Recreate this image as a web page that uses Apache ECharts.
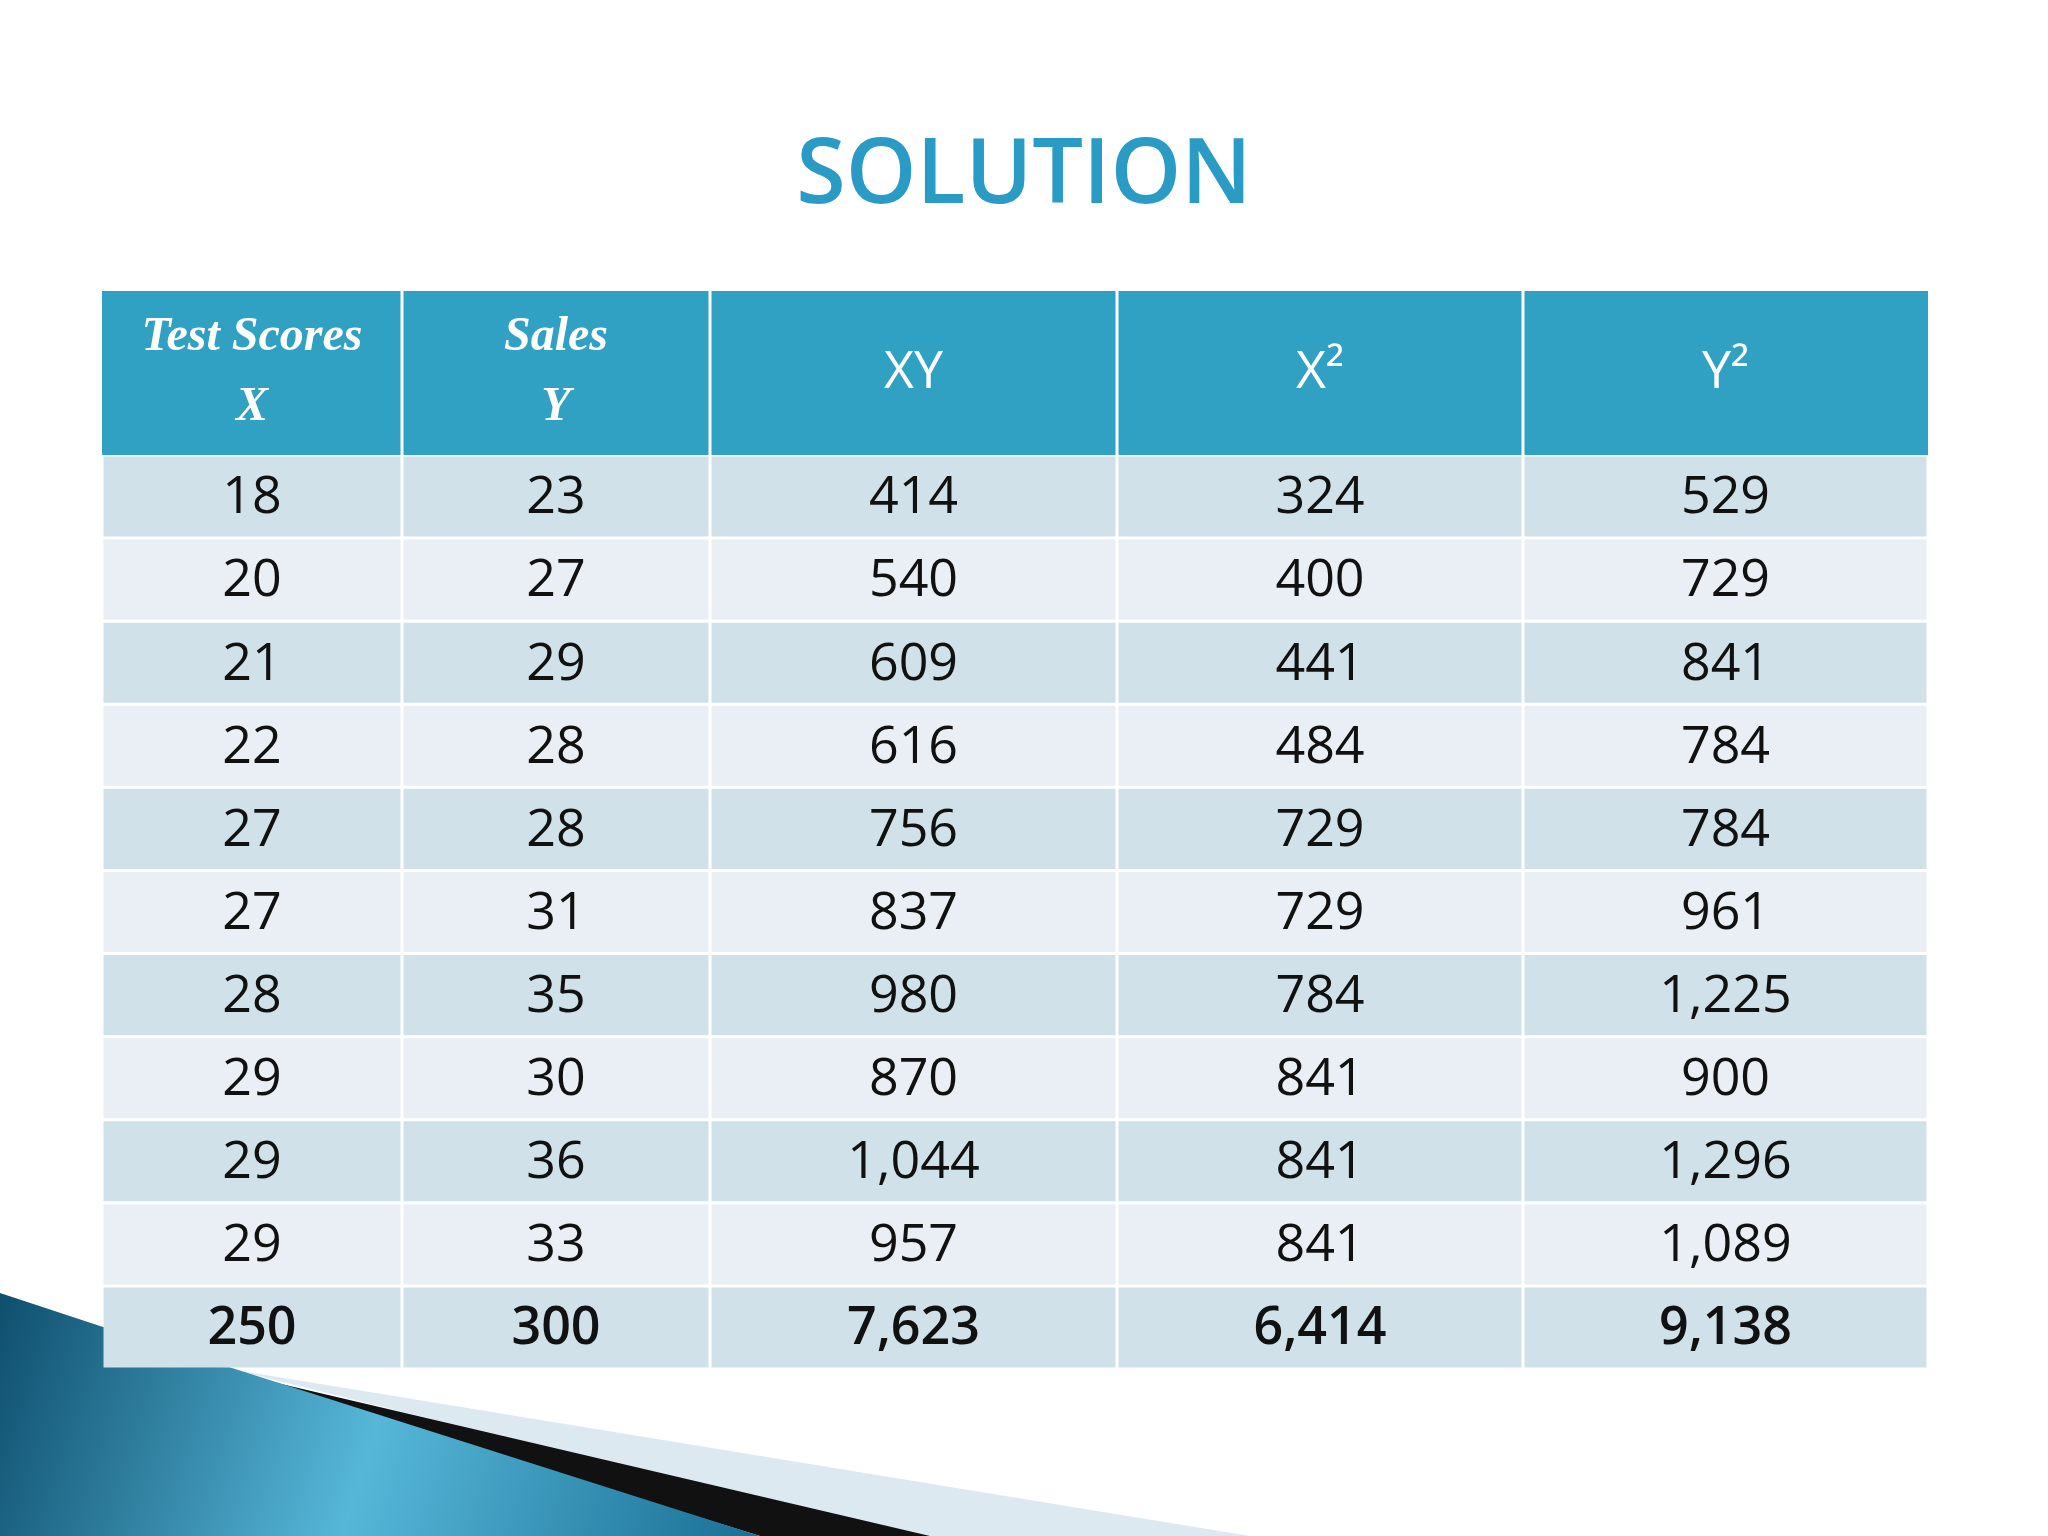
<!DOCTYPE html>
<html>
<head>
<meta charset="utf-8">
<script src="https://cdn.jsdelivr.net/npm/echarts@6/dist/echarts.min.js"></script>
<style>html,body{margin:0;padding:0;background:#fff}#main{width:2048px;height:1536px}</style>
</head>
<body>
<div id="main"></div>
<script>
// table data
var headers = [['Test Scores', 'X'], ['Sales', 'Y'], ['XY'], ['X²'], ['Y²']];
var colX = ['18', '20', '21', '22', '27', '27', '28', '29', '29', '29', '250'];
var colY = ['23', '27', '29', '28', '28', '31', '35', '30', '36', '33', '300'];
var colXY = ['414', '540', '609', '616', '756', '837', '980', '870', '1,044', '957', '7,623'];
var colX2 = ['324', '400', '441', '484', '729', '729', '784', '841', '841', '841', '6,414'];
var colY2 = ['529', '729', '841', '784', '784', '961', '1,225', '900', '1,296', '1,089', '9,138'];
var columns = [colX, colY, colXY, colX2, colY2];
var rowNames = colX.map(function (v, i) { return 'r' + i; });

// layout (pixels from table left)
var edges = [0, 300, 608, 1015, 1421, 1826];
var tblLeft = 102, tblTop = 455, tblW = 1826, tblH = 914, headTop = 291;

var cells = [], labels = [];
columns.forEach(function (col, c) {
  col.forEach(function (v, r) { cells.push([c, r]); labels.push(v); });
});

function lin(x2, y2, stops) {
  return { type: 'linear', x: 0, y: 0, x2: x2, y2: y2,
    colorStops: stops.map(function (s) { return { offset: s[0], color: s[1] }; }) };
}

var chart = echarts.init(document.getElementById('main'));

var graphics = [];
// title
graphics.push({
  type: 'text', left: 'center', top: 132,
  style: {
    text: 'SOLUTION', font: '600 90px "Open Sans", sans-serif',
    fill: '#2a9bc4',
    shadowColor: 'rgba(0,0,0,0.35)', shadowBlur: 6, shadowOffsetX: 3, shadowOffsetY: 3
  }
});
// bottom-left swoosh
graphics.push({ type: 'polygon', z: 0,
  shape: { points: [[235, 1370], [1250, 1536], [900, 1536]] }, style: { fill: '#dce9f1' } });
graphics.push({ type: 'polygon', z: 1,
  shape: { points: [[230, 1372], [930, 1536], [760, 1536]] }, style: { fill: '#111' } });
graphics.push({ type: 'polygon', z: 2,
  shape: { points: [[0, 1293], [100, 1326], [760, 1536], [0, 1536]] },
  style: { fill: lin(1, 1, [[0, '#0f4f6e'], [0.5, '#56b7d9'], [1, '#1a6f95']]) } });
// header
graphics.push({ type: 'rect', shape: { x: tblLeft, y: headTop, width: tblW, height: tblTop - headTop },
  style: { fill: '#31a1c3' } });
headers.forEach(function (h, i) {
  var x0 = tblLeft + edges[i], x1 = tblLeft + edges[i + 1];
  if (i > 0) graphics.push({ type: 'rect', z: 5,
    shape: { x: x0 - 1.5, y: headTop, width: 3, height: tblTop - headTop }, style: { fill: '#fff' } });
  var serif = h.length > 1;
  graphics.push({
    type: 'text', z: 6,
    style: {
      text: h.join('\n'), x: (x0 + x1) / 2, y: headTop + (tblTop - headTop) / 2,
      align: 'center', verticalAlign: 'middle',
      font: serif ? 'bold italic 48px "Liberation Serif", serif' : '52px "Open Sans", sans-serif',
      lineHeight: 70, fill: '#fff'
    }
  });
});

chart.setOption({
  animation: false,
  graphic: graphics,
  grid: { left: tblLeft, top: tblTop, width: tblW, height: tblH },
  xAxis: { type: 'value', min: 0, max: tblW, show: false },
  yAxis: { type: 'category', data: rowNames, inverse: true, show: false },
  series: [{
    type: 'custom',
    data: cells,
    encode: { x: 0, y: 1 },
    renderItem: function (params, api) {
      var c = api.value(0), r = api.value(1);
      var p0 = api.coord([edges[c], r]);
      var p1 = api.coord([edges[c + 1], r]);
      var h = api.size([0, 1])[1];
      var total = r === colX.length - 1;
      return {
        type: 'group',
        children: [{
          type: 'rect',
          shape: { x: p0[0] + 1.5, y: p0[1] - h / 2 + 1.5, width: p1[0] - p0[0] - 3, height: h - 3 },
          style: { fill: r % 2 === 0 ? '#d0e1e9' : '#e9eff5' }
        }, {
          type: 'text',
          style: {
            text: labels[params.dataIndex], x: (p0[0] + p1[0]) / 2, y: p0[1] + 2,
            align: 'center', verticalAlign: 'middle',
            font: (total ? '600 ' : '') + '52px "Open Sans", sans-serif',
            fill: '#111'
          }
        }]
      };
    }
  }]
});
</script>
</body>
</html>
